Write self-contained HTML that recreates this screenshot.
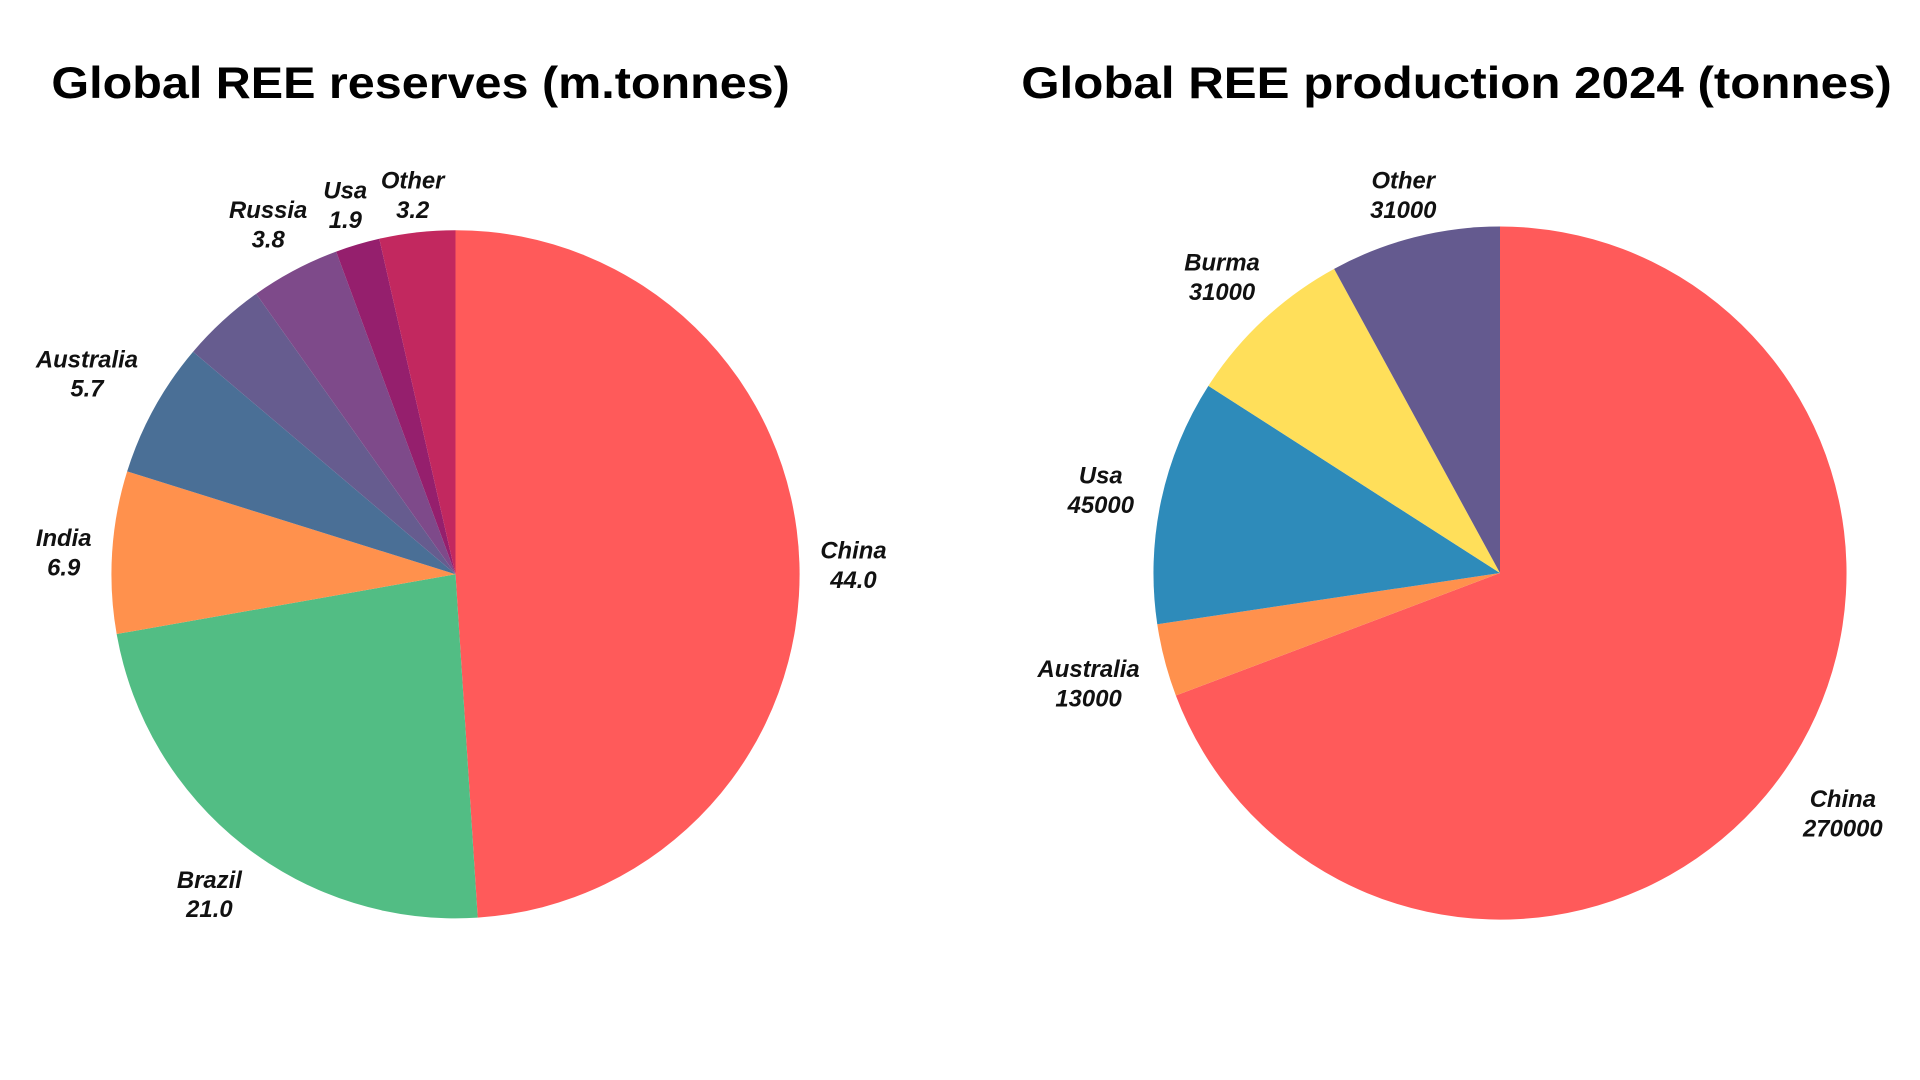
<!DOCTYPE html>
<html><head><meta charset="utf-8">
<style>
html,body{margin:0;padding:0;background:#fff;}
svg{display:block;}
text{font-family:"Liberation Sans",sans-serif;}
.t{font-weight:bold;font-size:36px;fill:#000;}
.l{font-weight:bold;font-style:italic;font-size:19.5px;fill:#111;}
</style></head><body>
<svg id="s" width="1920" height="1080" viewBox="0 0 1568 882" preserveAspectRatio="none" xmlns="http://www.w3.org/2000/svg">
<rect width="1568" height="882" fill="#fff"/>
<text class="t" x="42" y="80" textLength="603" lengthAdjust="spacingAndGlyphs">Global REE reserves (m.tonnes)</text>
<text class="t" x="834" y="80" textLength="711" lengthAdjust="spacingAndGlyphs">Global REE production 2024 (tonnes)</text>
<g id="p"></g>
<g class="l" text-anchor="middle">
<text x="697" y="456">China</text><text x="697" y="480">44.0</text>
<text x="171" y="725">Brazil</text><text x="171" y="749">21.0</text>
<text x="52" y="446">India</text><text x="52" y="470">6.9</text>
<text x="71" y="300">Australia</text><text x="71" y="324">5.7</text>
<text x="219" y="178">Russia</text><text x="219" y="202">3.8</text>
<text x="282" y="162">Usa</text><text x="282" y="186">1.9</text>
<text x="337" y="154">Other</text><text x="337" y="178">3.2</text>
<text x="1505" y="659">China</text><text x="1505" y="683">270000</text>
<text x="889" y="553">Australia</text><text x="889" y="577">13000</text>
<text x="899" y="395">Usa</text><text x="899" y="419">45000</text>
<text x="998" y="221">Burma</text><text x="998" y="245">31000</text>
<text x="1146" y="154">Other</text><text x="1146" y="178">31000</text>
</g>
</svg>
<script>
function pie(cx,cy,r,angs,cols){
 var g=document.getElementById('p'),h='';
 for(var i=0;i<cols.length;i++){
  var a1=angs[i]*Math.PI/180,a2=angs[i+1]*Math.PI/180;
  var x1=cx+r*Math.cos(a1),y1=cy-r*Math.sin(a1),x2=cx+r*Math.cos(a2),y2=cy-r*Math.sin(a2);
  var large=Math.abs(angs[i]-angs[i+1])>180?1:0;
  h+='<path d="M'+cx+' '+cy+' L'+x1+' '+y1+' A'+r+' '+r+' 0 '+large+' 1 '+x2+' '+y2+' Z" fill="'+cols[i]+'"/>';
 }
 g.innerHTML+=h;
}
pie(372,469,281,[90,-86.3,-170,-197.4,-220.3,-234.6,-249.7,-257.2,-270],
 ['#ff5a5a','#52bd84','#ff914d','#4a6f96','#665c8f','#7e4a8a','#951f6d','#c2285f']);
pie(1225,468,283,[90,-159.3,-171.5,-212.7,-241.4,-270],
 ['#ff5a5a','#ff914d','#2e8bba','#ffdf5a','#645a8f']);
</script>
</body></html>
